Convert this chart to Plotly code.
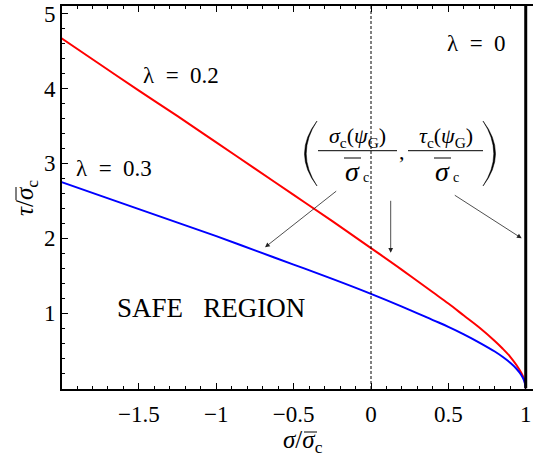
import plotly.graph_objects as go

# ---- data ----
sigma = [-2.0, -1.75, -1.5, -1.25, -1.0, -0.75, -0.5, -0.25, 0.0, 0.2, 0.4, 0.5,
         0.6, 0.7, 0.8, 0.85, 0.9, 0.94, 0.97, 0.99, 1.0]
tau_l02 = [4.67, 4.32, 3.97, 3.63, 3.28, 2.93, 2.58, 2.23, 1.87, 1.58, 1.28, 1.13,
           0.97, 0.81, 0.63, 0.53, 0.42, 0.31, 0.21, 0.12, 0.0]
tau_l03 = [2.75, 2.57, 2.39, 2.21, 2.03, 1.84, 1.65, 1.46, 1.26, 1.09, 0.91, 0.82,
           0.72, 0.61, 0.49, 0.42, 0.34, 0.26, 0.18, 0.10, 0.0]
lambda0_x = [1.0, 1.0]
lambda0_y = [0.0, 5.2]
xtick_vals = [-1.5, -1.0, -0.5, 0.0, 0.5, 1.0]
xtick_text = ["\u22121.5", "\u22121", "\u22120.5", "0", "0.5", "1"]
ytick_vals = [1, 2, 3, 4, 5]
ytick_text = ["1", "2", "3", "4", "5"]

W, H = 533, 461
L, R, T, B = 62, 0, 6, 72
PW, PH = W - L - R, H - T - B
FONT = "Liberation Serif"
SP = "\u2002"  # wide space around '='


def px(xp):
    return (xp - L) / PW


def py(yp):
    return (H - B - yp) / PH


fig = go.Figure()
fig.add_trace(go.Scatter(x=sigma, y=tau_l02, mode="lines",
                         line=dict(color="#ff0000", width=2, shape="spline"),
                         showlegend=False, hoverinfo="skip"))
fig.add_trace(go.Scatter(x=sigma, y=tau_l03, mode="lines",
                         line=dict(color="#0000ff", width=2, shape="spline"),
                         showlegend=False, hoverinfo="skip"))
fig.add_trace(go.Scatter(x=lambda0_x, y=lambda0_y, mode="lines",
                         line=dict(color="black", width=3),
                         showlegend=False, hoverinfo="skip"))

# dashed line at sigma = 0
fig.add_shape(type="line", xref="x", yref="paper", x0=0, x1=0, y0=0, y1=1,
              line=dict(color="black", width=1, dash="3px,2px"))

annots = []


def txt(s, x, y, size, xanchor="center", **kw):
    annots.append(dict(text=s, x=px(x), y=py(y), xref="paper", yref="paper",
                       showarrow=False, xanchor=xanchor, yanchor="middle",
                       borderpad=0,
                       font=dict(family=FONT, size=size, color="black"), **kw))


def hline(x0, x1, y, w=1.0):
    fig.add_shape(type="line", xref="paper", yref="paper",
                  x0=px(x0), x1=px(x1), y0=py(y), y1=py(y),
                  line=dict(color="black", width=w))


def vline(x, y0, y1, w=1.0):
    fig.add_shape(type="line", xref="paper", yref="paper",
                  x0=px(x), x1=px(x), y0=py(y0), y1=py(y1),
                  line=dict(color="black", width=w))


txt(f"\u03bb{SP}={SP}0.2", 180.5, 75, 23)
txt(f"\u03bb{SP}={SP}0.3", 113.5, 168, 23)
txt(f"\u03bb{SP}={SP}0", 476.5, 43, 23)
txt("SAFE\u00a0\u00a0\u00a0REGION", 211, 308, 27)

# axis titles (built as text so the bar over sigma can be placed)
txt("<i>\u03c3</i>/<i>\u03c3</i><sub>c</sub>", 303, 442, 25)
hline(304, 317, 432)
txt("<i>\u03c4</i>/<i>\u03c3</i><sub>c</sub>", 26, 198, 25, textangle=-90)
vline(16, 200, 187)

# point label  ( sigma_c(psi_G)/sigma_c , tau_c(psi_G)/sigma_c )
txt("<i>\u03c3</i><sub>c</sub>(<i>\u03c8</i><sub>G</sub>)", 357, 137, 22)
txt("<i>\u03c4</i><sub>c</sub>(<i>\u03c8</i><sub>G</sub>)", 445.5, 137, 22)
txt(",", 402, 151, 22)
for cx in (352, 442):
    txt("<i>\u03c3</i>", cx, 172, 28)
    txt("c", cx + 14, 177, 14)
    hline(cx - 8, cx + 9, 158)
hline(318, 397, 150.7)
hline(408, 483, 150.7)


def paren(xo, xi, y0, y1, thick):
    # crescent-shaped big parenthesis; xo = control x of outer curve, xi = tips x
    ym = (y0 + y1) / 2
    p = (f"M {px(xi)},{py(y0)} Q {px(xo)},{py(ym)} {px(xi)},{py(y1)} "
         f"Q {px(xo + thick)},{py(ym)} {px(xi)},{py(y0)} Z")
    fig.add_shape(type="path", xref="paper", yref="paper", path=p,
                  fillcolor="black", line=dict(color="black", width=0.5))


paren(292, 317, 121, 186, 3.5)
paren(508, 483, 121, 186, -3.5)


def arrow(x_head, y_head, x_tail, y_tail):
    annots.append(dict(x=px(x_head), y=py(y_head), xref="paper", yref="paper",
                       ax=x_tail - x_head, ay=y_tail - y_head,
                       axref="pixel", ayref="pixel", text="", showarrow=True,
                       arrowhead=2, arrowsize=1.2, arrowwidth=0.8,
                       arrowcolor="#222222"))


arrow(265, 247.3, 337.7, 190)
arrow(390.7, 252.7, 390.7, 199.3)
arrow(521.7, 238.3, 453.3, 194.3)

fig.update_layout(
    width=W, height=H,
    margin=dict(l=L, r=R, t=T, b=B),
    paper_bgcolor="white", plot_bgcolor="white",
    font=dict(family=FONT, size=23, color="black"),
    annotations=annots,
    xaxis=dict(range=[-1.997, 1.047], tickvals=xtick_vals, ticktext=xtick_text,
               ticks="inside", ticklen=6, tickwidth=1, tickcolor="black",
               showline=True, linewidth=2, linecolor="black", mirror="allticks",
               showgrid=False, zeroline=False, ticklabelstandoff=3,
               minor=dict(dtick=0.1, tick0=0, ticks="inside", ticklen=3,
                          tickwidth=1, tickcolor="black", showgrid=False),
               tickfont=dict(family=FONT, size=23)),
    yaxis=dict(range=[-0.01, 5.1], tickvals=ytick_vals, ticktext=ytick_text,
               ticks="inside", ticklen=6, tickwidth=1, tickcolor="black",
               showline=True, linewidth=2, linecolor="black",
               showgrid=False, zeroline=False,
               minor=dict(dtick=0.2, tick0=0, ticks="inside", ticklen=3,
                          tickwidth=1, tickcolor="black", showgrid=False),
               tickfont=dict(family=FONT, size=23)),
)

fig.write_html("out.html")
